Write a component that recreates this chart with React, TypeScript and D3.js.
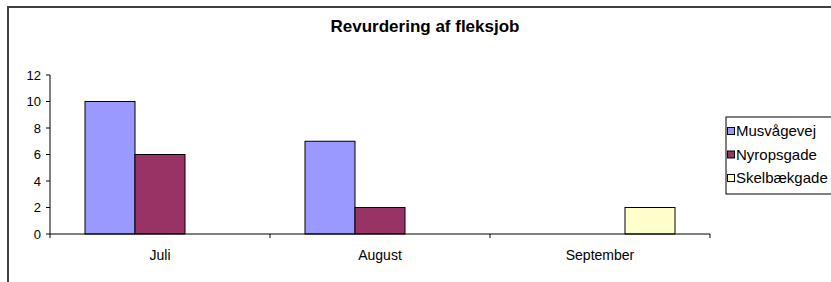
import React from 'react';
import * as d3 from 'd3';

const categories = ['Juli', 'August', 'September'];
const seriesNames = ['Musvågevej', 'Nyropsgade', 'Skelbækgade'];
const musvaagevej = [10, 7, 0];
const nyropsgade = [6, 2, 0];
const skelbaekgade = [0, 0, 2];
const yTicks = [0, 2, 4, 6, 8, 10, 12];
const title = 'Revurdering af fleksjob';

const seriesValues = [musvaagevej, nyropsgade, skelbaekgade];
const colors = ['#9999FF', '#993366', '#FFFFCC'];

const App: React.FC = () => {
  const width = 831;
  const height = 282;
  const plot = { left: 50, right: 710, top: 75, bottom: 234 };
  const font = 'Arial, "Liberation Sans", sans-serif';

  const x = d3.scaleBand<string>()
    .domain(categories)
    .range([plot.left, plot.right]);

  // bars sit in the middle of each category, gap on both sides
  const inner = d3.scaleBand<string>()
    .domain(seriesNames)
    .range([35, x.bandwidth() - 35]);

  const y = d3.scaleLinear()
    .domain([0, 12])
    .range([plot.bottom, plot.top]);

  const xTicks = [...categories.map(c => x(c) || 0), plot.right];

  return (
    <svg
      width={width}
      height={height}
      style={{ position: 'absolute', left: 0, top: 0, background: '#fff' }}
      fontFamily={font}
    >
      {/* chart frame */}
      <rect x={8} y={7} width={width + 20} height={height + 20} fill="#fff" stroke="#404040" strokeWidth={2} />

      <text x={425} y={32} textAnchor="middle" fontSize={17} fontWeight="bold" fill="#000">
        {title}
      </text>

      {/* bars */}
      {seriesNames.map((s, si) =>
        categories.map((c, ci) => {
          const v = seriesValues[si][ci];
          if (!v) return null;
          const bx = (x(c) || 0) + (inner(s) || 0);
          return (
            <rect
              key={s + c}
              x={bx}
              y={y(v)}
              width={inner.bandwidth()}
              height={y(0) - y(v)}
              fill={colors[si]}
              stroke="#000"
              strokeWidth={1}
            />
          );
        })
      )}

      {/* y axis */}
      <line x1={plot.left} x2={plot.left} y1={plot.top} y2={plot.bottom} stroke="#000" />
      {yTicks.map(t => (
        <g key={t}>
          <line x1={plot.left - 4} x2={plot.left} y1={y(t)} y2={y(t)} stroke="#000" />
          <text x={41} y={y(t)} dy="0.35em" textAnchor="end" fontSize={13} fill="#000">
            {t}
          </text>
        </g>
      ))}

      {/* x axis */}
      <line x1={plot.left} x2={plot.right} y1={plot.bottom} y2={plot.bottom} stroke="#000" />
      {xTicks.map((tx, i) => (
        <line key={i} x1={tx} x2={tx} y1={plot.bottom} y2={plot.bottom + 4} stroke="#000" />
      ))}
      {categories.map(c => (
        <text
          key={c}
          x={(x(c) || 0) + x.bandwidth() / 2}
          y={260}
          textAnchor="middle"
          fontSize={14}
          fill="#000"
        >
          {c}
        </text>
      ))}

      {/* legend */}
      <rect x={726} y={117} width={120} height={77} fill="#fff" stroke="#000" strokeWidth={1} />
      {seriesNames.map((s, i) => {
        const cy = 131 + i * 23.5;
        return (
          <g key={s}>
            <rect x={727.5} y={cy - 3.5} width={7} height={7} fill={colors[i]} stroke="#000" strokeWidth={1} />
            <text x={736} y={cy} dy="0.35em" fontSize={15} fill="#000">
              {s}
            </text>
          </g>
        );
      })}
    </svg>
  );
};

export default App;
